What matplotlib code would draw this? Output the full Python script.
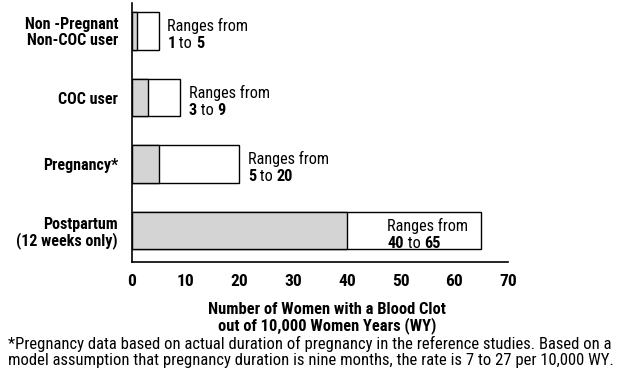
import matplotlib
matplotlib.use("Agg")
import matplotlib.pyplot as plt

plt.rcParams['font.family'] = ['Roboto Condensed', 'DejaVu Sans']

# data
categories = ["Non -Pregnant\nNon-COC user", "COC user", "Pregnancy*", "Postpartum\n(12 weeks only)"]
low = [1, 3, 5, 40]
high = [5, 9, 20, 65]
inside = [False, False, False, True]
xticks = [0, 10, 20, 30, 40, 50, 60, 70]

fig = plt.figure(figsize=(6.22, 3.88), dpi=100)
ax = fig.add_axes([132 / 622, 1 - 262 / 388, 376 / 622, 259 / 388])

ypos = list(range(len(categories)))
bh = 0.56
ax.barh(ypos, high, height=bh, color="white", edgecolor="black", linewidth=1.0)
ax.barh(ypos, low, height=bh, color="#d4d4d4", edgecolor="black", linewidth=1.0)

ax.set_xlim(0, 70)
ax.set_ylim(3.47, -0.42)
ax.set_xticks(xticks)
ax.set_xticklabels([str(t) for t in xticks], fontsize=12.5, fontweight="bold")
ax.set_yticks(ypos)
ax.set_yticklabels(categories, fontsize=11.5, fontweight="bold", linespacing=1.05)
ax.tick_params(axis="x", length=0, pad=9)
ax.tick_params(axis="y", length=0, pad=10)
for s in ["top", "right"]:
    ax.spines[s].set_visible(False)
ax.spines["left"].set_linewidth(1.2)
ax.spines["bottom"].set_linewidth(1.2)

# range annotations
fs = 11.7
for y, lo, hi, ins in zip(ypos, low, high, inside):
    x = lo + 7.5 if ins else hi
    dx = 0 if ins else 6
    ax.annotate("Ranges from", xy=(x, y), xytext=(dx, 3.5), textcoords="offset points",
                fontsize=fs, va="center", ha="left")
    t = ax.annotate(str(lo), xy=(x, y), xytext=(dx, -9), textcoords="offset points",
                    fontsize=fs, fontweight="bold", va="center", ha="left")
    t = ax.annotate(" to ", xy=(1, 0), xycoords=t, fontsize=fs, va="bottom", ha="left")
    ax.annotate(str(hi), xy=(1, 0), xycoords=t, fontsize=fs, fontweight="bold",
                va="bottom", ha="left")

fig.text(327 / 622, 1 - 318 / 388, "Number of Women with a Blood Clot\nout of 10,000 Women Years (WY)",
         ha="center", va="center", fontsize=11.9, fontweight="bold", linespacing=1.05)

fig.text(8 / 622, 1 - 352 / 388,
         "*Pregnancy data based on actual duration of pregnancy in the reference studies. Based on a\n"
         "model assumption that pregnancy duration is nine months, the rate is 7 to 27 per 10,000 WY.",
         ha="left", va="center", fontsize=12, linespacing=1.05)

fig.savefig("out.png", dpi=100)
